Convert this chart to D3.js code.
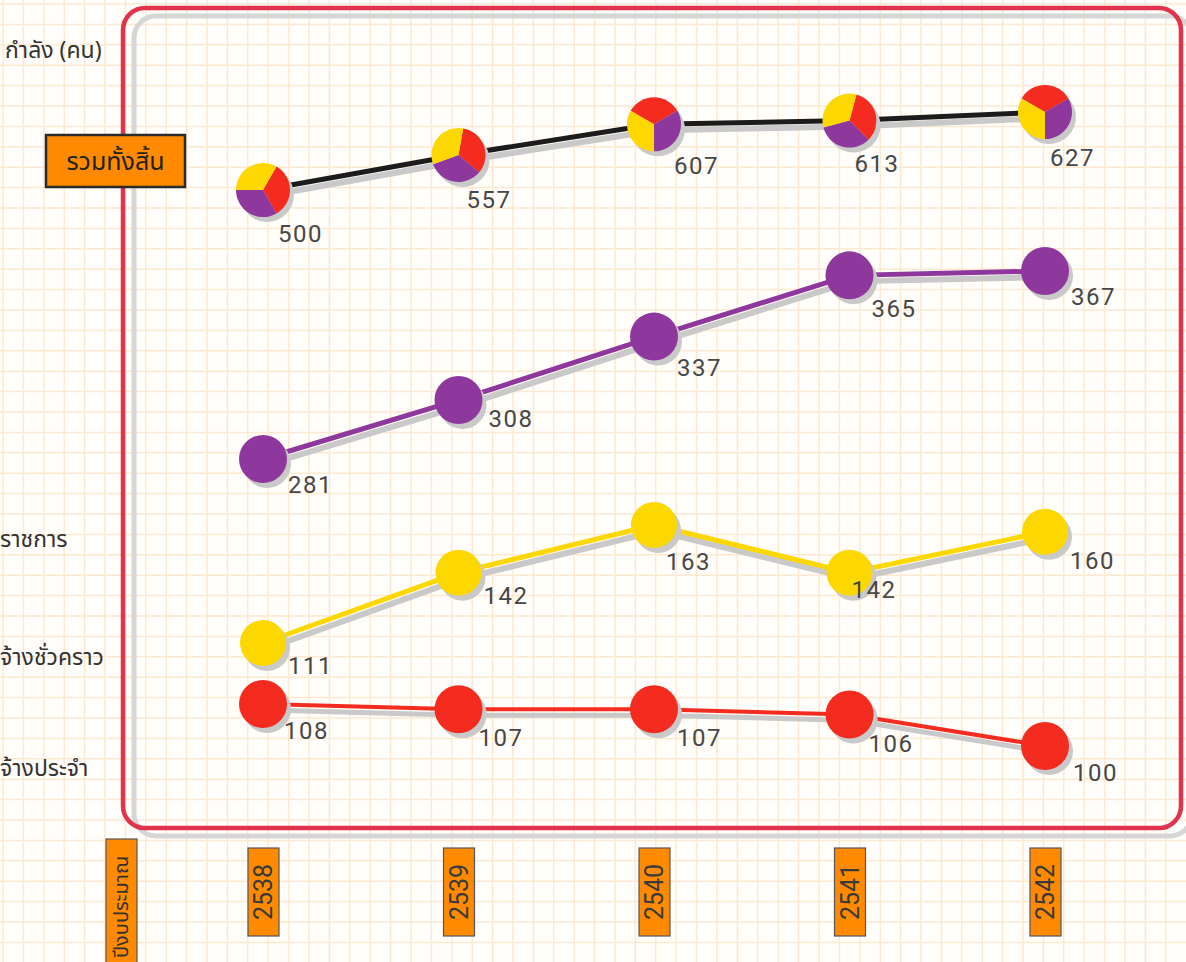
<!DOCTYPE html>
<html>
<head>
<meta charset="utf-8">
<script src="https://cdn.jsdelivr.net/npm/d3@7"></script>
<style>
  html, body { margin: 0; padding: 0; background: #fffefa; }
  svg { display: block; }
</style>
</head>
<body>
<script>
// ข้อมูล: กำลังคน (คน) ตามปีงบประมาณ
const years = ["2538", "2539", "2540", "2541", "2542"];
const totalValues = [500, 557, 607, 613, 627];
const civilValues = [281, 308, 337, 365, 367];   // ม่วง
const tempValues  = [111, 142, 163, 142, 160];   // เหลือง
const permValues  = [108, 107, 107, 106, 100];   // แดง

const yTitle = "กำลัง (คน)";
const totalTitle = "รวมทั้งสิ้น";
const xTitle = "ปีงบประมาณ";
const sideLabels = ["ราชการ", "จ้างชั่วคราว", "จ้างประจำ"];

const W = 1186, H = 962;
const THAI = "'Noto Sans Thai', 'Noto Sans', Tahoma, sans-serif";
const NUM = "Roboto, 'DejaVu Sans', sans-serif";
const C = {red: "#f42b1f", purple: "#8e379c", yellow: "#fcd800", black: "#1c1c1c", shadow: "#c9c9c9"};

const svg = d3.select("body").append("svg")
  .attr("width", W).attr("height", H)
  .attr("viewBox", [0, 0, W, H]);

// กระดาษกราฟ
const grid = svg.append("g").attr("stroke", "#fde9d2").attr("stroke-width", 1.5);
for (const gx of d3.range(3, W, 20.4)) grid.append("line").attr("x1", gx).attr("x2", gx).attr("y1", 0).attr("y2", H);
for (const gy of d3.range(4, H, 20.4)) grid.append("line").attr("y1", gy).attr("y2", gy).attr("x1", 0).attr("x2", W);

// กรอบ (เงา + เส้นแดง)
svg.append("rect").attr("x", 134).attr("y", 16).attr("width", 1058).attr("height", 820).attr("rx", 22)
  .attr("fill", "none").attr("stroke", "#d6d6d6").attr("stroke-width", 5);
svg.append("rect").attr("x", 123).attr("y", 8).attr("width", 1058).attr("height", 820).attr("rx", 22)
  .attr("fill", "none").attr("stroke", "#e2334d").attr("stroke-width", 4.5);

const x = d3.scalePoint().domain(years).range([263, 1045]);

// แต่ละชุดมีสเกลแนวตั้งของตัวเอง
const series = [
  {values: totalValues, color: C.black, y: d3.scaleLinear().domain([500, 627]).range([190, 112]), r: 27, pie: true,
   dx: [15, 8, 20, 5, 5], dy: [52, 53, 50, 51, 54], lw: 5},
  {values: civilValues, color: C.purple, y: d3.scaleLinear().domain([281, 367]).range([459, 271]), r: 24,
   dx: [25, 30, 23, 22, 26], dy: [34, 27, 39, 42, 34], lw: 5},
  {values: tempValues, color: C.yellow, y: d3.scaleLinear().domain([111, 163]).range([643, 525]), r: 23,
   dx: [25, 25, 12, 2, 25], dy: [31, 31, 45, 25, 37], lw: 5},
  {values: permValues, color: C.red, y: d3.scaleLinear().domain([100, 108]).range([746, 704]), r: 24,
   dx: [21, 20, 23, 19, 28], dy: [35, 37, 37, 37, 35], lw: 4},
];

const pieTurn = [30, 10, -60, 15, -60];
const pieColors = [C.red, C.purple, C.yellow];
const arc = d3.arc().innerRadius(0);

for (const s of series) {
  const pts = s.values.map((v, i) => [x(years[i]), s.y(v)]);
  const line = d3.line();
  const g = svg.append("g");

  g.append("path").attr("d", line(pts.map(p => [p[0] + 3, p[1] + 6])))
    .attr("fill", "none").attr("stroke", C.shadow).attr("stroke-width", s.lw + 1);
  g.append("path").attr("d", line(pts))
    .attr("fill", "none").attr("stroke", s.color).attr("stroke-width", s.lw);

  pts.forEach((p, i) => {
    g.append("circle").attr("cx", p[0] + 4).attr("cy", p[1] + 5).attr("r", s.r).attr("fill", C.shadow);
    if (s.pie) {
      const a0 = pieTurn[i] * Math.PI / 180;
      const slices = d3.pie().sort(null).startAngle(a0).endAngle(a0 + 2 * Math.PI)([1, 1, 1]);
      const pg = g.append("g").attr("transform", `translate(${p[0]},${p[1]})`);
      slices.forEach((d, k) => pg.append("path").attr("d", arc.outerRadius(s.r)(d)).attr("fill", pieColors[k]));
    } else {
      g.append("circle").attr("cx", p[0]).attr("cy", p[1]).attr("r", s.r).attr("fill", s.color);
    }
    g.append("text").attr("x", p[0] + s.dx[i]).attr("y", p[1] + s.dy[i])
      .attr("font-family", NUM).attr("font-size", 24).attr("letter-spacing", 1.5)
      .attr("fill", "#474747").text(s.values[i]);
  });
}

// ป้ายด้านซ้าย
svg.append("text").attr("x", 5).attr("y", 58).attr("font-family", THAI).attr("font-size", 23)
  .attr("fill", "#333").text(yTitle);

svg.append("rect").attr("x", 46).attr("y", 135).attr("width", 139).attr("height", 52)
  .attr("fill", "#ff8a00").attr("stroke", "#2a2a2a").attr("stroke-width", 2.5);
svg.append("text").attr("x", 115.5).attr("y", 170).attr("text-anchor", "middle")
  .attr("font-family", THAI).attr("font-size", 25).attr("fill", "#222").text(totalTitle);

[547, 665, 776].forEach((yy, i) => {
  svg.append("text").attr("x", 0).attr("y", yy).attr("font-family", THAI).attr("font-size", 23)
    .attr("fill", "#333").text(sideLabels[i]);
});

// แกนปี
for (const yr of years) {
  svg.append("rect").attr("x", x(yr) - 15).attr("y", 848).attr("width", 31).attr("height", 88)
    .attr("fill", "#ff8a00").attr("stroke", "#555").attr("stroke-width", 1.2);
  svg.append("text").attr("transform", `translate(${x(yr) + 9},892) rotate(-90)`)
    .attr("text-anchor", "middle").attr("font-family", NUM).attr("font-size", 25)
    .attr("fill", "#3a3a3a").text(yr);
}

svg.append("rect").attr("x", 106).attr("y", 839).attr("width", 31).attr("height", 130)
  .attr("fill", "#ff8a00").attr("stroke", "#555").attr("stroke-width", 1.2);
svg.append("text").attr("transform", `translate(${128},958) rotate(-90)`)
  .attr("font-family", THAI).attr("font-size", 20).attr("fill", "#333").text(xTitle);
</script>
</body>
</html>
